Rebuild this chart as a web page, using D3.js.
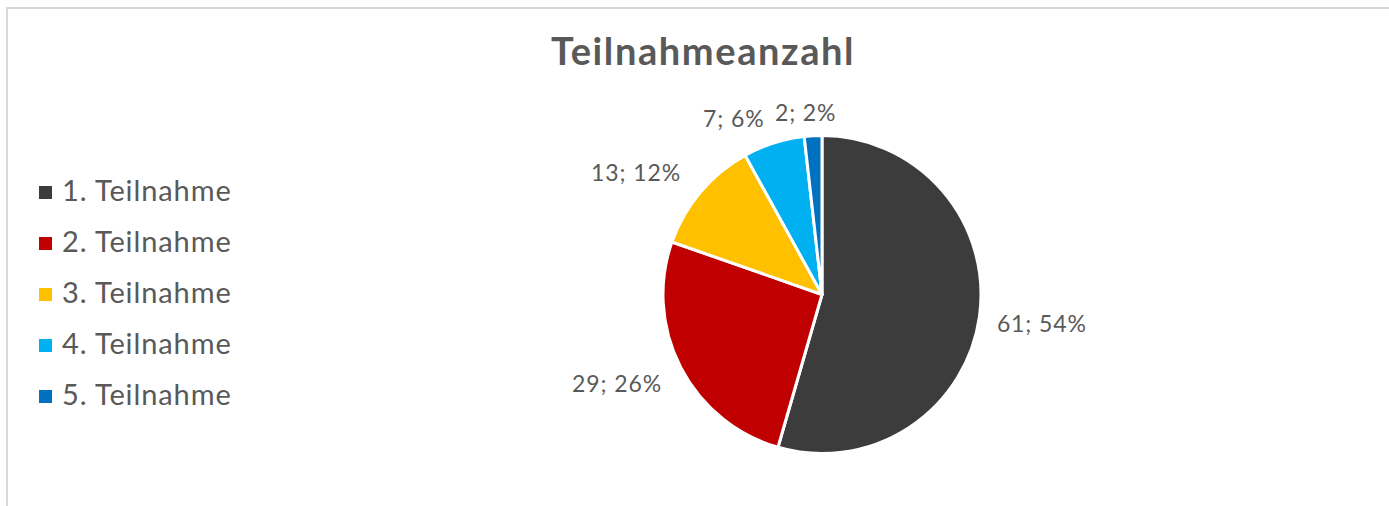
<!DOCTYPE html>
<html lang="de">
<head>
  <meta charset="UTF-8">
  <title>Teilnahmeanzahl</title>
  <script src="https://cdnjs.cloudflare.com/ajax/libs/d3/7.8.5/d3.min.js"></script>
  <style>
    html, body { margin: 0; padding: 0; background: #fff; }
    svg { display: block; font-family: Lato, "Open Sans", sans-serif; }
  </style>
</head>
<body>
  <svg id="chart" width="1389" height="506"></svg>
  <script>
    // data
    const categories = ["1. Teilnahme", "2. Teilnahme", "3. Teilnahme", "4. Teilnahme", "5. Teilnahme"];
    const counts = [61, 29, 13, 7, 2];
    const colors = ["#3c3c3c", "#c00000", "#ffc000", "#00b0f0", "#0070c0"];

    // layout bits (label nudges like Excel's best fit)
    const labelNudge = [[6, 3], [-13, 5], [-21, -6], [-27, -4], [-5, -2]];

    const width = 1389, height = 506;
    const cx = 822, cy = 294.5, radius = 159;

    const svg = d3.select("#chart");

    // chart frame
    svg.append("rect")
      .attr("x", 7).attr("y", 8)
      .attr("width", width).attr("height", height)
      .attr("fill", "none")
      .attr("stroke", "#d9d9d9")
      .attr("stroke-width", 2);

    svg.append("text")
      .attr("x", 703).attr("y", 65)
      .attr("text-anchor", "middle")
      .attr("font-size", 38)
      .attr("font-weight", "bold")
      .attr("letter-spacing", 1.6)
      .attr("fill", "#595959")
      .text("Teilnahmeanzahl");

    const total = d3.sum(counts);
    const pie = d3.pie().sort(null).value(d => d.value);
    const arcs = pie(counts.map((v, i) => ({ value: v, i: i })));
    const arc = d3.arc().innerRadius(0).outerRadius(radius);

    const g = svg.append("g").attr("transform", `translate(${cx},${cy})`);

    g.selectAll("path")
      .data(arcs)
      .enter().append("path")
      .attr("d", arc)
      .attr("fill", d => colors[d.data.i])
      .attr("stroke", "#fff")
      .attr("stroke-width", 3)
      .attr("stroke-linejoin", "round");

    // data labels outside end
    g.selectAll("text.lbl")
      .data(arcs)
      .enter().append("text")
      .attr("class", "lbl")
      .attr("font-size", 23)
      .attr("letter-spacing", 0.9)
      .attr("fill", "#595959")
      .attr("text-anchor", "middle")
      .attr("dominant-baseline", "central")
      .text(d => `${d.value}; ${Math.round(d.value / total * 100)}%`)
      .each(function (d) {
        const a = (d.startAngle + d.endAngle) / 2;
        const w = this.getComputedTextLength();
        const h = 20;
        const ax = Math.sin(a) * (radius + 12);
        const ay = -Math.cos(a) * (radius + 12);
        const n = labelNudge[d.data.i];
        d3.select(this)
          .attr("x", ax + Math.sin(a) * w / 2 + n[0])
          .attr("y", ay - Math.cos(a) * h / 2 + n[1]);
      });

    // legend
    const legend = svg.append("g").attr("transform", "translate(39,186)");
    const row = legend.selectAll("g")
      .data(categories)
      .enter().append("g")
      .attr("transform", (d, i) => `translate(0,${i * 51})`);
    row.append("rect")
      .attr("width", 13).attr("height", 13)
      .attr("fill", (d, i) => colors[i]);
    row.append("text")
      .attr("x", 23).attr("y", 15)
      .attr("font-size", 29)
      .attr("letter-spacing", 0.9)
      .attr("fill", "#595959")
      .text(d => d);
  </script>
</body>
</html>
